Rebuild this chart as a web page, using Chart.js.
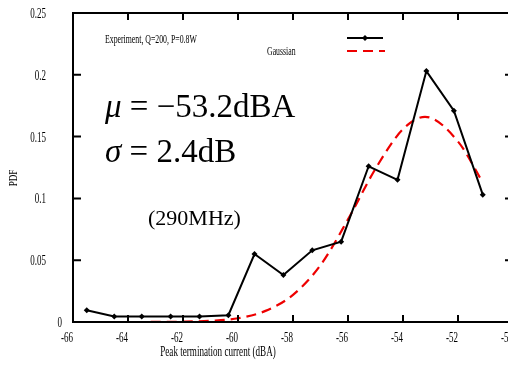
<!DOCTYPE html>
<html>
<head>
<meta charset="utf-8">
<script src="https://cdn.jsdelivr.net/npm/chart.js@4.4.1/dist/chart.umd.min.js"></script>
<style>
  html, body { margin: 0; padding: 0; background: #fff; overflow: hidden; }
  #wrap { width: 525px; height: 365px; }
</style>
</head>
<body>
<div id="wrap"><canvas id="pdfChart" width="525" height="365"></canvas></div>
<script>
const expX = [-65.5, -64.5, -63.5, -62.45, -61.4, -60.35, -59.4, -58.35, -57.3, -56.25, -55.25, -54.2, -53.15, -52.15, -51.1];
const expY = [0.0095, 0.0045, 0.0045, 0.0045, 0.0045, 0.0055, 0.055, 0.038, 0.058, 0.065, 0.126, 0.115, 0.203, 0.171, 0.103];
const gaussX = [-65.5, -64, -62, -61, -60, -59, -58, -57, -56, -55, -54, -53.2, -52, -51.1];
const gaussY = [0, 0, 0.0003, 0.001, 0.003, 0.009, 0.022, 0.046, 0.083, 0.124, 0.156, 0.166, 0.146, 0.113];

const xTicks = [-66, -64, -62, -60, -58, -56, -54, -52, -50];
const yTicks = [0, 0.05, 0.1, 0.15, 0.2, 0.25];
const yTickLabels = ['0', '0.05', '0.1', '0.15', '0.2', '0.25'];

const serif = '"Liberation Serif", "Times New Roman", serif';

// gnuplot-ish squeezed text
function narrowText(ctx, txt, x, y, size, align, sx, style) {
  ctx.save();
  ctx.font = (style ? style + ' ' : '') + size + 'px ' + serif;
  ctx.translate(x, y);
  ctx.scale(sx, 1);
  ctx.textAlign = align;
  ctx.textBaseline = style === undefined ? 'middle' : 'alphabetic';
  ctx.fillStyle = '#000';
  ctx.fillText(txt, 0, 0);
  const w = ctx.measureText(txt).width * sx;
  ctx.restore();
  return w;
}

const framePlugin = {
  id: 'frame',
  afterDraw(chart) {
    const ctx = chart.ctx;
    const a = chart.chartArea;
    const xs = chart.scales.x, ys = chart.scales.y;

    ctx.save();
    ctx.strokeStyle = '#000';
    ctx.lineWidth = 2;
    ctx.strokeRect(a.left, a.top, a.right - a.left, a.bottom - a.top);

    // inward ticks
    ctx.beginPath();
    xTicks.forEach(v => {
      const px = xs.getPixelForValue(v);
      ctx.moveTo(px, a.bottom); ctx.lineTo(px, a.bottom - 7);
      ctx.moveTo(px, a.top); ctx.lineTo(px, a.top + 7);
    });
    yTicks.forEach(v => {
      const py = ys.getPixelForValue(v);
      ctx.moveTo(a.left, py); ctx.lineTo(a.left + 8, py);
      ctx.moveTo(a.right, py); ctx.lineTo(a.right - 8, py);
    });
    ctx.stroke();
    ctx.restore();

    xTicks.forEach(v => narrowText(ctx, String(v), xs.getPixelForValue(v) - 6, a.bottom + 16, 15, 'center', 0.6));
    yTicks.forEach((v, i) => narrowText(ctx, yTickLabels[i], v === 0 ? 62 : 46, ys.getPixelForValue(v) + 1, 15, 'right', 0.6));

    narrowText(ctx, 'Peak termination current (dBA)', 218, 352, 14, 'center', 0.65);
    ctx.save();
    ctx.translate(14, 178);
    ctx.rotate(-Math.PI / 2);
    narrowText(ctx, 'PDF', 0, 0, 13, 'center', 0.7);
    ctx.restore();

    // legend
    narrowText(ctx, 'Experiment, Q=200, P=0.8W', 105, 40, 13, 'left', 0.6);
    narrowText(ctx, 'Gaussian', 267, 52, 13, 'left', 0.6);
    ctx.save();
    ctx.lineWidth = 2;
    ctx.strokeStyle = '#000';
    ctx.beginPath(); ctx.moveTo(347, 38); ctx.lineTo(383, 38); ctx.stroke();
    ctx.fillStyle = '#000';
    ctx.beginPath(); ctx.moveTo(365, 35); ctx.lineTo(368, 38); ctx.lineTo(365, 41); ctx.lineTo(362, 38); ctx.closePath(); ctx.fill();
    ctx.strokeStyle = '#ee0000';
    ctx.setLineDash([10, 6]);
    ctx.beginPath(); ctx.moveTo(347, 51); ctx.lineTo(385, 51); ctx.stroke();
    ctx.restore();

    // annotations
    let w = narrowText(ctx, '\u03bc', 105, 117, 33, 'left', 1, 'italic');
    narrowText(ctx, ' = \u221253.2dBA', 105 + w, 117, 33, 'left', 1, '');
    w = narrowText(ctx, '\u03c3', 105, 162, 33, 'left', 1, 'italic');
    narrowText(ctx, ' = 2.4dB', 105 + w, 162, 33, 'left', 1, '');
    narrowText(ctx, '(290MHz)', 148, 225, 22, 'left', 1, '');
  }
};

new Chart(document.getElementById('pdfChart'), {
  type: 'line',
  data: {
    datasets: [
      {
        label: 'Experiment, Q=200, P=0.8W',
        data: expX.map((x, i) => ({ x, y: expY[i] })),
        borderColor: '#000',
        backgroundColor: '#000',
        borderWidth: 2,
        pointStyle: 'rectRot',
        pointRadius: 3,
        pointBorderWidth: 0,
        tension: 0
      },
      {
        label: 'Gaussian',
        data: gaussX.map((x, i) => ({ x, y: gaussY[i] })),
        borderColor: '#ee0000',
        borderWidth: 2.2,
        borderDash: [10, 6],
        pointRadius: 0,
        cubicInterpolationMode: 'monotone'
      }
    ]
  },
  options: {
    responsive: false,
    animation: false,
    layout: { padding: { left: 73, top: 13, right: 12, bottom: 43 } },
    plugins: { legend: { display: false }, tooltip: { enabled: false } },
    scales: {
      x: {
        type: 'linear', min: -66, max: -50,
        ticks: { display: false, stepSize: 2 },
        grid: { display: false }, border: { display: false },
        afterFit: s => { s.height = 0; }
      },
      y: {
        min: 0, max: 0.25,
        ticks: { display: false, stepSize: 0.05 },
        grid: { display: false }, border: { display: false },
        afterFit: s => { s.width = 0; }
      }
    }
  },
  plugins: [framePlugin]
});
</script>
</body>
</html>
